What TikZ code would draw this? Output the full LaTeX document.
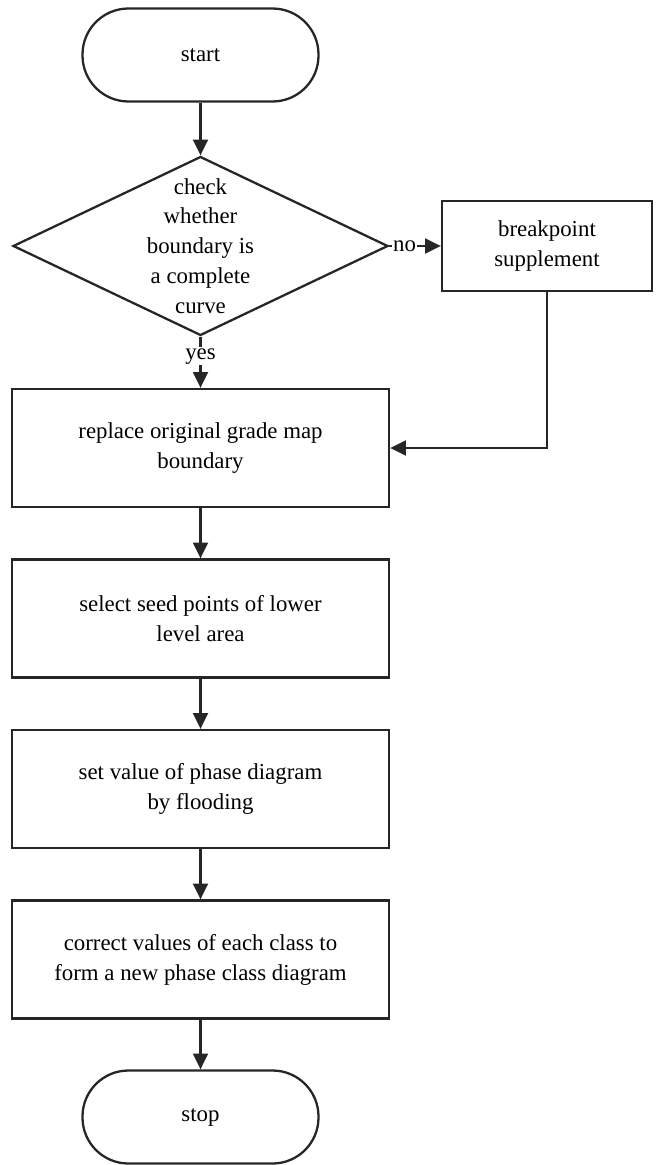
\documentclass[tikz,border=0pt]{standalone}
\usepackage{fontspec}
\setmainfont{Liberation Serif}
\usetikzlibrary{shapes.geometric,arrows.meta}

\tikzset{
    flowline/.style={line width=1.3pt, draw=black!85},
    arrow/.style={flowline, -{Triangle[length=9pt,width=8.5pt]}},
    terminal/.style={flowline, rectangle, rounded corners=0.92cm, minimum width=4.72cm, minimum height=1.86cm, align=center},
    process/.style={flowline, rectangle, minimum width=7.54cm, minimum height=2.36cm, align=center},
    decision/.style={flowline, diamond, minimum width=7.5cm, minimum height=3.58cm, inner sep=0pt},
    steptext/.style={align=center},
    edgelabel/.style={fill=white, inner sep=0.5pt}
}

\begin{document}
\begin{tikzpicture}[every node/.style={font=\fontsize{13}{17}\selectfont}]
            \useasboundingbox (0,0) rectangle (13.18,-23.3);

            % Start
            \node[terminal] (start) at (4.01,-1.1) {start};

            % Test
            \node[decision] (check) at (4.01,-4.92) {};
            \node[steptext] (checktext) at (check.center) {check\\whether\\boundary is\\a complete\\curve};
            \node[process, minimum width=4.2cm, minimum height=1.8cm] (bpoint) at (10.94,-4.92) {breakpoint\\supplement};

            % Main chain
            \node[process] (replace) at (4.01,-8.96) {replace original grade map\\boundary};
            \node[process] (seed) at (4.01,-12.37) {select seed points of lower\\level area};
            \node[process] (flood) at (4.01,-15.78) {set value of phase diagram\\by flooding};
            \node[process] (correct) at (4.01,-19.19) {correct values of each class to\\form a new phase class diagram};

            % Stop
            \node[terminal] (stop) at (4.01,-22.34) {stop};

            % Connectors
            \draw[arrow] (start) -- (check);
            \draw[arrow] (check.east) -- node[edgelabel, pos=0.3] {no} (bpoint.west);
            \draw[arrow] (check.south) -- node[edgelabel, pos=0.38] {yes} (replace.north);
            \draw[arrow] (bpoint.south) |- (replace.east);
            \draw[arrow] (replace) -- (seed);
            \draw[arrow] (seed) -- (flood);
            \draw[arrow] (flood) -- (correct);
            \draw[arrow] (correct) -- (stop);
        \end{tikzpicture}
\end{document}
